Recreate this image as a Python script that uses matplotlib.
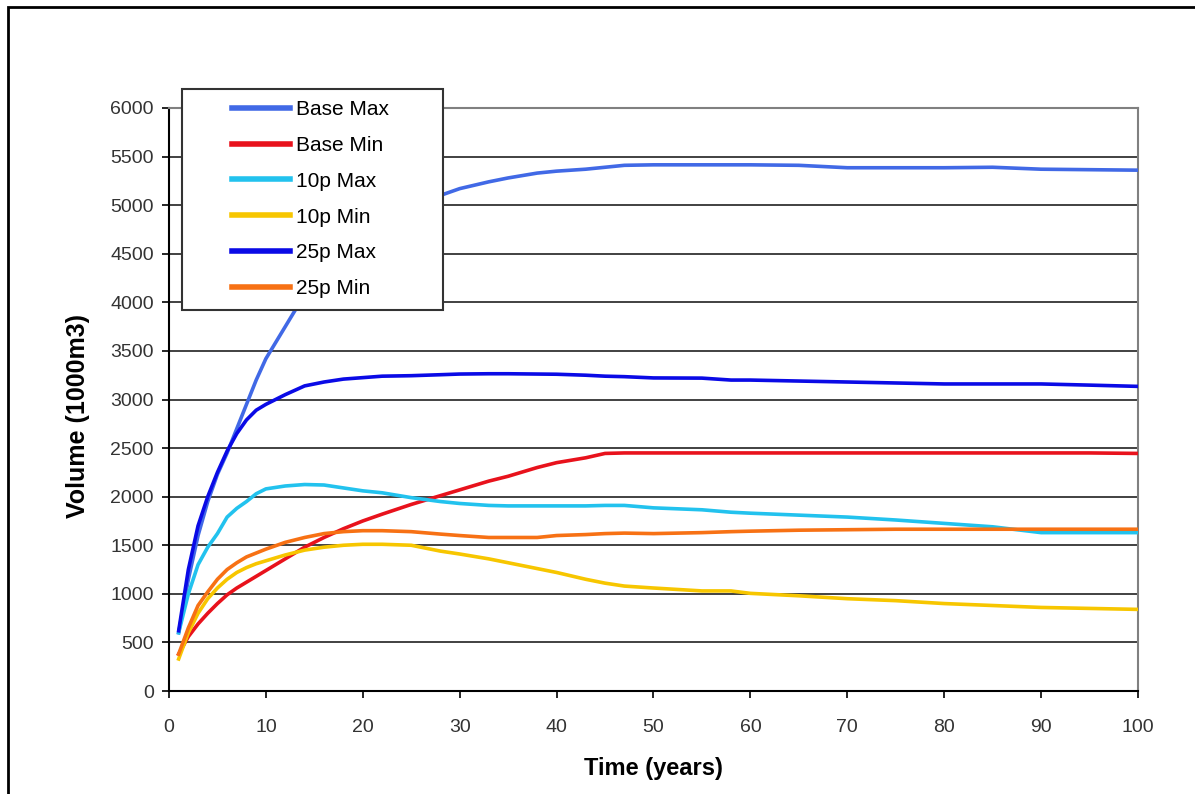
import matplotlib
matplotlib.use("Agg")
import matplotlib.pyplot as plt
from matplotlib.patches import Rectangle

plt.rcParams['font.family'] = ['Liberation Sans', 'DejaVu Sans']

# data
years = [1, 2, 3, 4, 5, 6, 7, 8, 9, 10, 12, 14, 16, 18, 20, 22, 25, 28, 30, 33,
         35, 38, 40, 43, 45, 47, 50, 55, 58, 60, 65, 70, 75, 80, 85, 90, 95, 100]

base_max = [600, 1150, 1600, 1950, 2230, 2450, 2700, 2950, 3200, 3420, 3750, 4080,
            4330, 4560, 4740, 4880, 5000, 5100, 5170, 5240, 5280, 5330, 5350, 5370,
            5390, 5410, 5415, 5415, 5415, 5415, 5410, 5385, 5385, 5385, 5390, 5370,
            5365, 5360]
base_min = [380, 560, 690, 800, 900, 990, 1060, 1120, 1180, 1240, 1360, 1480,
            1580, 1670, 1750, 1820, 1920, 2010, 2070, 2160, 2210, 2300, 2350, 2400,
            2445, 2450, 2450, 2450, 2450, 2450, 2450, 2450, 2450, 2450, 2450, 2450,
            2450, 2445]
p10_max = [600, 1000, 1300, 1480, 1620, 1790, 1880, 1950, 2030, 2080, 2110, 2125,
           2120, 2090, 2060, 2040, 1990, 1950, 1930, 1910, 1905, 1905, 1905, 1905,
           1910, 1910, 1885, 1865, 1840, 1830, 1810, 1790, 1760, 1725, 1690, 1630,
           1630, 1630]
p10_min = [330, 600, 800, 950, 1060, 1150, 1220, 1270, 1310, 1340, 1400, 1450,
           1480, 1500, 1510, 1510, 1500, 1440, 1410, 1360, 1320, 1260, 1220, 1150,
           1110, 1080, 1060, 1030, 1030, 1005, 980, 950, 930, 900, 880, 860,
           850, 840]
p25_max = [620, 1250, 1700, 2000, 2250, 2470, 2650, 2790, 2890, 2950, 3050, 3140,
           3180, 3210, 3225, 3240, 3245, 3255, 3262, 3265, 3265, 3262, 3260, 3250,
           3240, 3235, 3222, 3220, 3200, 3200, 3190, 3180, 3170, 3160, 3160, 3160,
           3148, 3135]
p25_min = [380, 650, 880, 1020, 1150, 1250, 1320, 1380, 1420, 1460, 1530, 1580,
           1620, 1640, 1650, 1650, 1640, 1615, 1600, 1580, 1580, 1580, 1600, 1610,
           1620, 1625, 1620, 1630, 1640, 1645, 1655, 1660, 1665, 1665, 1665, 1665,
           1665, 1665]

series = [
    ("Base Max", base_max, "#4169E6"),
    ("Base Min", base_min, "#E8121C"),
    ("10p Max", p10_max, "#22C2EE"),
    ("10p Min", p10_min, "#F7C600"),
    ("25p Max", p25_max, "#0A0AE6"),
    ("25p Min", p25_min, "#F77114"),
]

fig = plt.figure(figsize=(11.95, 7.94), dpi=100)
ax = fig.add_axes([0.1414, 0.1297, 0.9523 - 0.1414, 0.864 - 0.1297])

# outer frame (left and top edges visible)
fig.patches.append(Rectangle((8 / 1195, -0.1), 1.2, 1 - 7 / 794 + 0.1,
                             transform=fig.transFigure, fill=False,
                             edgecolor="black", linewidth=2))

for name, vals, col in series:
    ax.plot(years, vals, color=col, linewidth=2.6, label=name, zorder=3)

ax.set_xlim(0, 100)
ax.set_ylim(0, 6000)
ax.set_xticks(range(0, 101, 10))
ax.set_yticks(range(0, 6001, 500))
ax.yaxis.grid(True, color="#333333", linewidth=1.3)
ax.set_axisbelow(True)
ax.tick_params(labelsize=14, direction="out", length=5, width=1.2, colors="black")
ax.tick_params(axis="x", pad=15)
ax.tick_params(axis="y", pad=6)
for lab in ax.get_xticklabels() + ax.get_yticklabels():
    lab.set_color("#333333")

ax.spines["left"].set_color("black")
ax.spines["bottom"].set_color("black")
ax.spines["left"].set_linewidth(1.5)
ax.spines["bottom"].set_linewidth(1.5)
ax.spines["top"].set_color("#808080")
ax.spines["right"].set_color("#808080")
ax.spines["top"].set_linewidth(1.5)
ax.spines["right"].set_linewidth(1.5)

ax.set_xlabel("Time (years)", fontsize=17, fontweight="bold", labelpad=15)
ax.set_ylabel("Volume (1000m3)", fontsize=18, fontweight="bold")
ax.yaxis.set_label_coords(-0.082, 0.472)

# legend box drawn by hand so it can overlap the top of the plot area
x0 = (182 - 169) / 969
y0 = (691 - 310) / 583
w = (443 - 182) / 969
h = (310 - 89) / 583
ax.add_patch(Rectangle((x0, y0), w, h, transform=ax.transAxes, facecolor="white",
                       edgecolor="#333333", linewidth=1.5, clip_on=False, zorder=4))
leg = ax.legend(loc="upper left", bbox_to_anchor=((232 - 169) / 969, (691 - 100) / 583),
                frameon=False, fontsize=15, handlelength=2.8, handletextpad=0.25,
                labelspacing=0.81, borderpad=0, borderaxespad=0)
leg.set_zorder(5)
for line in leg.get_lines():
    line.set_linewidth(4)

fig.savefig("out.png", dpi=100)
